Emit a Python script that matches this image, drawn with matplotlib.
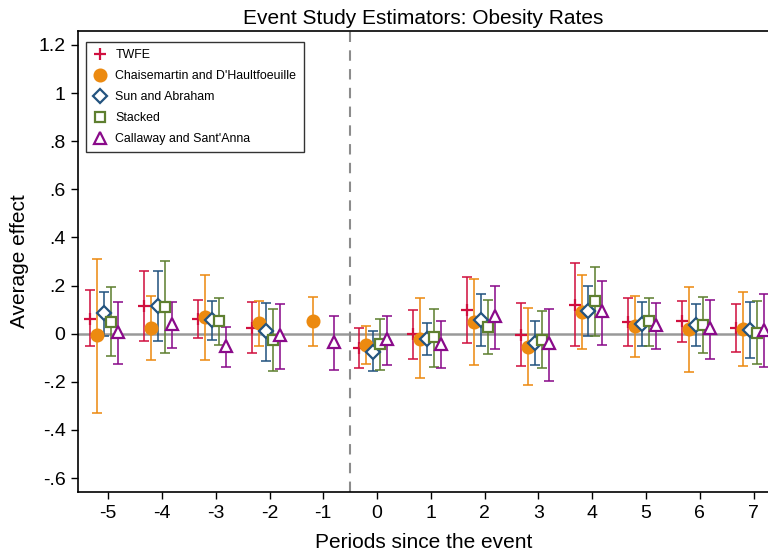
import numpy as np
import matplotlib.pyplot as plt

plt.rcParams['font.family'] = ['Liberation Sans', 'DejaVu Sans']

periods = np.arange(-5, 8)
names = ["TWFE", "Chaisemartin and D'Haultfoeuille", "Sun and Abraham",
         "Stacked", "Callaway and Sant'Anna"]
nan = np.nan

# point estimates, lower and upper CI bounds per estimator (period -5 ... 7)
twfe = [0.062, 0.115, 0.062, 0.024, nan, -0.060, -0.003, 0.097, -0.004, 0.120, 0.049, 0.051, 0.024]
twfe_lo = [-0.050, -0.029, -0.017, -0.082, nan, -0.144, -0.105, -0.038, -0.136, -0.053, -0.053, -0.033, -0.078]
twfe_hi = [0.180, 0.262, 0.142, 0.130, nan, 0.025, 0.100, 0.235, 0.128, 0.293, 0.149, 0.135, 0.125]

cdh = [-0.007, 0.024, 0.068, 0.043, 0.051, -0.047, -0.020, 0.050, -0.054, 0.089, 0.030, 0.018, 0.020]
cdh_lo = [-0.330, -0.111, -0.110, -0.050, -0.050, -0.125, -0.186, -0.132, -0.212, -0.064, -0.097, -0.161, -0.136]
cdh_hi = [0.310, 0.157, 0.243, 0.135, 0.151, 0.030, 0.147, 0.228, 0.105, 0.242, 0.158, 0.196, 0.175]

sa = [0.086, 0.115, 0.055, 0.010, nan, -0.075, -0.021, 0.057, -0.038, 0.096, 0.040, 0.036, 0.017]
sa_lo = [-0.008, -0.030, -0.028, -0.112, nan, -0.153, -0.089, -0.053, -0.129, -0.011, -0.050, -0.051, -0.101]
sa_hi = [0.174, 0.261, 0.136, 0.128, nan, 0.010, 0.046, 0.165, 0.054, 0.197, 0.133, 0.122, 0.130]

stk = [0.050, 0.111, 0.053, -0.025, nan, -0.043, -0.015, 0.028, -0.025, 0.136, 0.051, 0.036, 0.004]
stk_lo = [-0.092, -0.082, -0.046, -0.154, nan, -0.150, -0.139, -0.083, -0.144, -0.008, -0.050, -0.079, -0.126]
stk_hi = [0.193, 0.301, 0.149, 0.101, nan, 0.061, 0.104, 0.139, 0.093, 0.279, 0.147, 0.154, 0.135]

cs = [0.007, 0.040, -0.050, -0.007, -0.035, -0.024, -0.043, 0.072, -0.040, 0.096, 0.035, 0.022, 0.017]
cs_lo = [-0.124, -0.058, -0.138, -0.147, -0.150, -0.132, -0.144, -0.064, -0.197, -0.049, -0.063, -0.104, -0.139]
cs_hi = [0.130, 0.130, 0.026, 0.124, 0.074, 0.074, 0.051, 0.197, 0.104, 0.221, 0.129, 0.140, 0.163]

yticks = [-0.6, -0.4, -0.2, 0, 0.2, 0.4, 0.6, 0.8, 1.0, 1.2]
ytick_labels = ["-.6", "-.4", "-.2", "0", ".2", ".4", ".6", ".8", "1", "1.2"]

series = [(twfe, twfe_lo, twfe_hi), (cdh, cdh_lo, cdh_hi), (sa, sa_lo, sa_hi),
          (stk, stk_lo, stk_hi), (cs, cs_lo, cs_hi)]
colors = ["#d0103f", "#ec8a10", "#23537f", "#5e7f30", "#8a0a8a"]
markers = ["+", "o", "D", "s", "^"]
msizes = [8, 8.5, 7, 7, 8]
offsets = [-0.33, -0.2, -0.07, 0.06, 0.19]

fig = plt.figure(figsize=(7.68, 5.55), dpi=100)
ax = fig.add_axes([0.1016, 0.1135, 0.9, 0.8306])

ax.axhline(0, color="#999999", lw=1.8, zorder=1)
ax.axvline(-0.5, color="#8c8c8c", lw=1.5, ls=(0, (5, 4)), zorder=1)

for (est, lo, hi), c, m, ms, off, name in zip(series, colors, markers, msizes, offsets, names):
    est = np.array(est); lo = np.array(lo); hi = np.array(hi)
    x = periods + off
    ax.errorbar(x, est, yerr=[est - lo, hi - est], fmt="none", ecolor=c,
                elinewidth=1.4, capsize=3.8, capthick=1.4, alpha=0.8, zorder=2)
    if m in ("o", "+"):
        ax.plot(x, est, ls="none", marker=m, color=c, ms=ms, mew=1.6, zorder=3, label=name)
    else:
        ax.plot(x, est, ls="none", marker=m, mfc="white", mec=c, ms=ms, mew=1.6,
                zorder=3, label=name)

ax.set_xlim(-5.56, 7.29)
ax.set_ylim(-0.658, 1.258)
ax.set_xticks(periods)
ax.set_xticklabels([str(p) for p in periods])
ax.set_yticks(yticks)
ax.set_yticklabels(ytick_labels)
ax.tick_params(direction="out", length=5, width=1, labelsize=14, pad=4)
for s in ["left", "bottom", "top"]:
    ax.spines[s].set_linewidth(1.2)
ax.spines["right"].set_visible(False)

ax.set_title("Event Study Estimators: Obesity Rates", fontsize=15, pad=5)
ax.set_xlabel("Periods since the event", fontsize=15, labelpad=8)
ax.set_ylabel("Average effect", fontsize=15, labelpad=7)

leg = ax.legend(loc="upper left", bbox_to_anchor=(0.002, 0.99), fontsize=8.9,
                frameon=True, fancybox=False, edgecolor="black", borderpad=0.6,
                labelspacing=0.72, handletextpad=0.6, handlelength=1.2)
leg.get_frame().set_linewidth(1.0)

fig.savefig("out.png", dpi=100)
